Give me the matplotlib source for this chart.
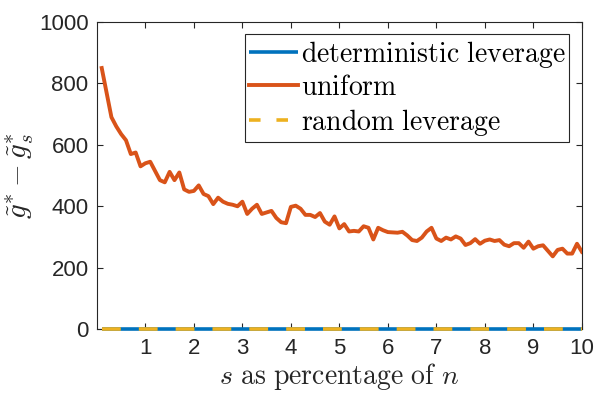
import numpy as np
import matplotlib
matplotlib.use("Agg")
import matplotlib.pyplot as plt

plt.rcParams['mathtext.fontset'] = 'cm'
plt.rcParams['font.family'] = ['Liberation Sans', 'DejaVu Sans']

# data
s_percent = np.round(np.arange(1, 101) * 0.1, 1)
uniform = [850, 770, 690, 660, 635, 615, 570, 575, 530, 540,
           545, 515, 485, 478, 512, 485, 510, 455, 447, 450,
           468, 440, 433, 407, 428, 415, 408, 405, 400, 415,
           375, 392, 405, 375, 380, 385, 362, 348, 345, 398,
           402, 392, 372, 372, 365, 378, 350, 340, 367, 328,
           342, 318, 320, 318, 335, 330, 292, 330, 322, 316,
           315, 314, 317, 305, 290, 287, 298, 318, 330, 295,
           287, 298, 292, 302, 295, 274, 280, 293, 278, 288,
           292, 287, 290, 275, 270, 280, 280, 265, 285, 262,
           270, 273, 255, 237, 258, 262, 246, 246, 278, 252]
deterministic = [0] * 100
random_lev = [0] * 100

labels = ['deterministic leverage', 'uniform', 'random leverage']
xticks = list(range(1, 11))
yticks = [0, 200, 400, 600, 800, 1000]

blue = '#0072BD'
orange = '#D95319'
yellow = '#EDB120'
axc = '#262626'

fig = plt.figure(figsize=(5.98, 3.99), dpi=100)
ax = fig.add_axes([0.162, 0.175, 0.811, 0.770])

ax.plot(s_percent, deterministic, color=blue, lw=2.6, clip_on=False, zorder=3,
        label=r'$\mathrm{deterministic\ leverage}$', solid_capstyle='butt')
ax.plot(s_percent, uniform, color=orange, lw=2.8, zorder=4,
        label=r'$\mathrm{uniform}$')
ax.plot(s_percent, random_lev, color=yellow, lw=2.6, clip_on=False, zorder=5,
        dashes=(5.2, 5.0), dash_capstyle='butt',
        label=r'$\mathrm{random\ leverage}$')

ax.set_xlim(0, 10)
ax.set_ylim(0, 1000)
ax.set_xticks(xticks)
ax.set_yticks(yticks)
ax.tick_params(direction='in', length=4, width=0.8, colors=axc, labelsize=16,
               top=True, right=True, pad=6)
for sp in ax.spines.values():
    sp.set_color(axc)
    sp.set_linewidth(0.8)

ax.set_xlabel(r'$s\ \mathrm{as\ percentage\ of}\ n$', fontsize=20, color=axc, labelpad=2)
ax.set_ylabel(r'$\tilde{g}^{*}-\tilde{g}^{*}_{s}$', fontsize=21, color=axc, labelpad=2)

handles, lbls = ax.get_legend_handles_labels()
leg = ax.legend(handles, lbls, loc='upper right', fontsize=20, frameon=True, fancybox=False,
                edgecolor=axc, framealpha=1, borderpad=0.15, labelspacing=0.2,
                handlelength=1.75, handletextpad=0.1, borderaxespad=0.45)
leg.get_frame().set_linewidth(0.8)
leg.legend_handles[2].set_dashes((3.2, 4.4))

fig.savefig('out.png', dpi=100)
